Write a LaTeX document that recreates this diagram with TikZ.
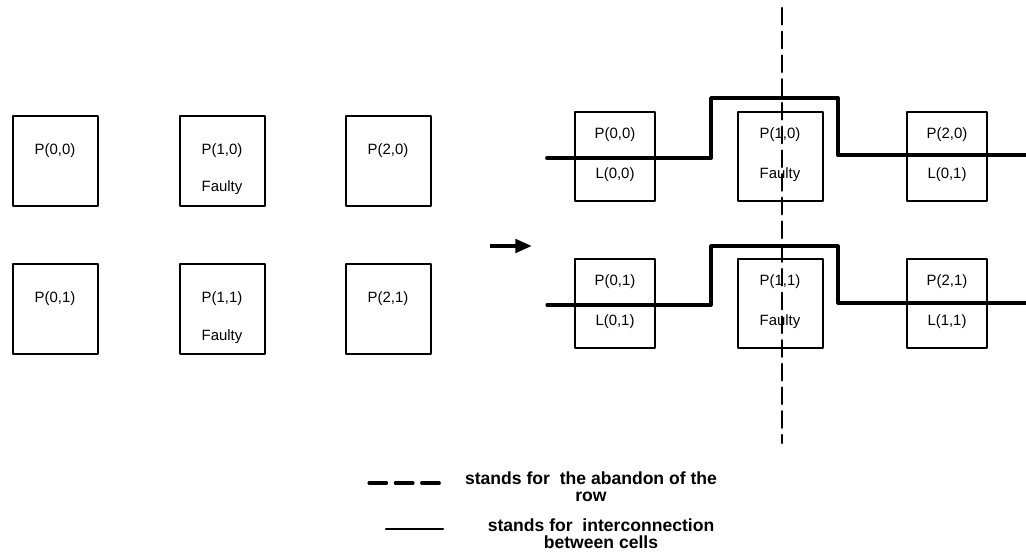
\documentclass[tikz,border=0pt]{standalone}
\usepackage{fontspec}
\setmainfont{Liberation Sans}
\usetikzlibrary{arrows.meta}

\begin{document}
\begin{tikzpicture}[x=0.02cm,y=-0.02cm,line cap=round,line join=round]
  \useasboundingbox (0,0) rectangle (1026,557);
  \tikzset{lbl/.style={font=\fontsize{8.5}{10}\selectfont,inner sep=0pt},
    note/.style={font=\fontsize{10}{9.6}\selectfont\bfseries,align=center,inner sep=0pt}}
  % left array
  \foreach \c/\x in {0/13,1/180,2/346} {
    \foreach \r/\y in {0/116,1/264} {
      \draw[line width=0.6pt] (\x,\y) rectangle ++(85,90);
      \node[lbl] (lp\c\r) at (\x+42,\y+35) {P(\c,\r)};
    }
  }
  \node[lbl] (lf0) at (222,188) {Faulty};
  \node[lbl] (lf1) at (222,337) {Faulty};
  % arrow
  \draw[line width=2.6pt,line cap=butt,-{Triangle[length=9.5pt,width=7.5pt]}] (490,246) -- (532,246);
  % right array
  \foreach \r/\y in {0/112,1/259} {
    \draw[line width=0.6pt] (575,\y) rectangle ++(80,89);
    \draw[line width=0.6pt] (738,\y) rectangle ++(85,89);
    \draw[line width=0.6pt] (907,\y) rectangle ++(80,89);
    \node[lbl] (rp0\r) at (615,\y+23) {P(0,\r)};
    \node[lbl] (rl0\r) at (615,\y+63) {L(0,\r)};
    \node[lbl] (rp1\r) at (780,\y+23) {P(1,\r)};
    \node[lbl] (rf1\r) at (780,\y+63) {Faulty};
    \node[lbl] (rp2\r) at (947,\y+23) {P(2,\r)};
  }
  \node[lbl] (rl20) at (947,175) {L(0,1)};
  \node[lbl] (rl21) at (947,322) {L(1,1)};
  % interconnection
  \draw[line width=2.2pt] (547,158) -- (711,158) -- (711,98) -- (838,98) -- (838,155) -- (1026,155);
  \draw[line width=1.8pt] (547,305) -- (711,305) -- (711,246) -- (838,246) -- (838,303) -- (1026,303);
  % abandoned column
  \draw[line width=1.2pt,dash pattern=on 9.5pt off 4pt] (782,8) -- (782,443);
  % legend
  \draw[line width=1.8pt,dash pattern=on 10pt off 5pt] (369,483) -- (440,483);
  \node[note] (n1) at (591,487) {stands for\ \ the abandon of the\\row};
  \draw[line width=1.4pt] (386,529) -- (443,529);
  \node[note] (n2) at (601,534) {stands for\ \ interconnection\\between cells};
\end{tikzpicture}
\end{document}
